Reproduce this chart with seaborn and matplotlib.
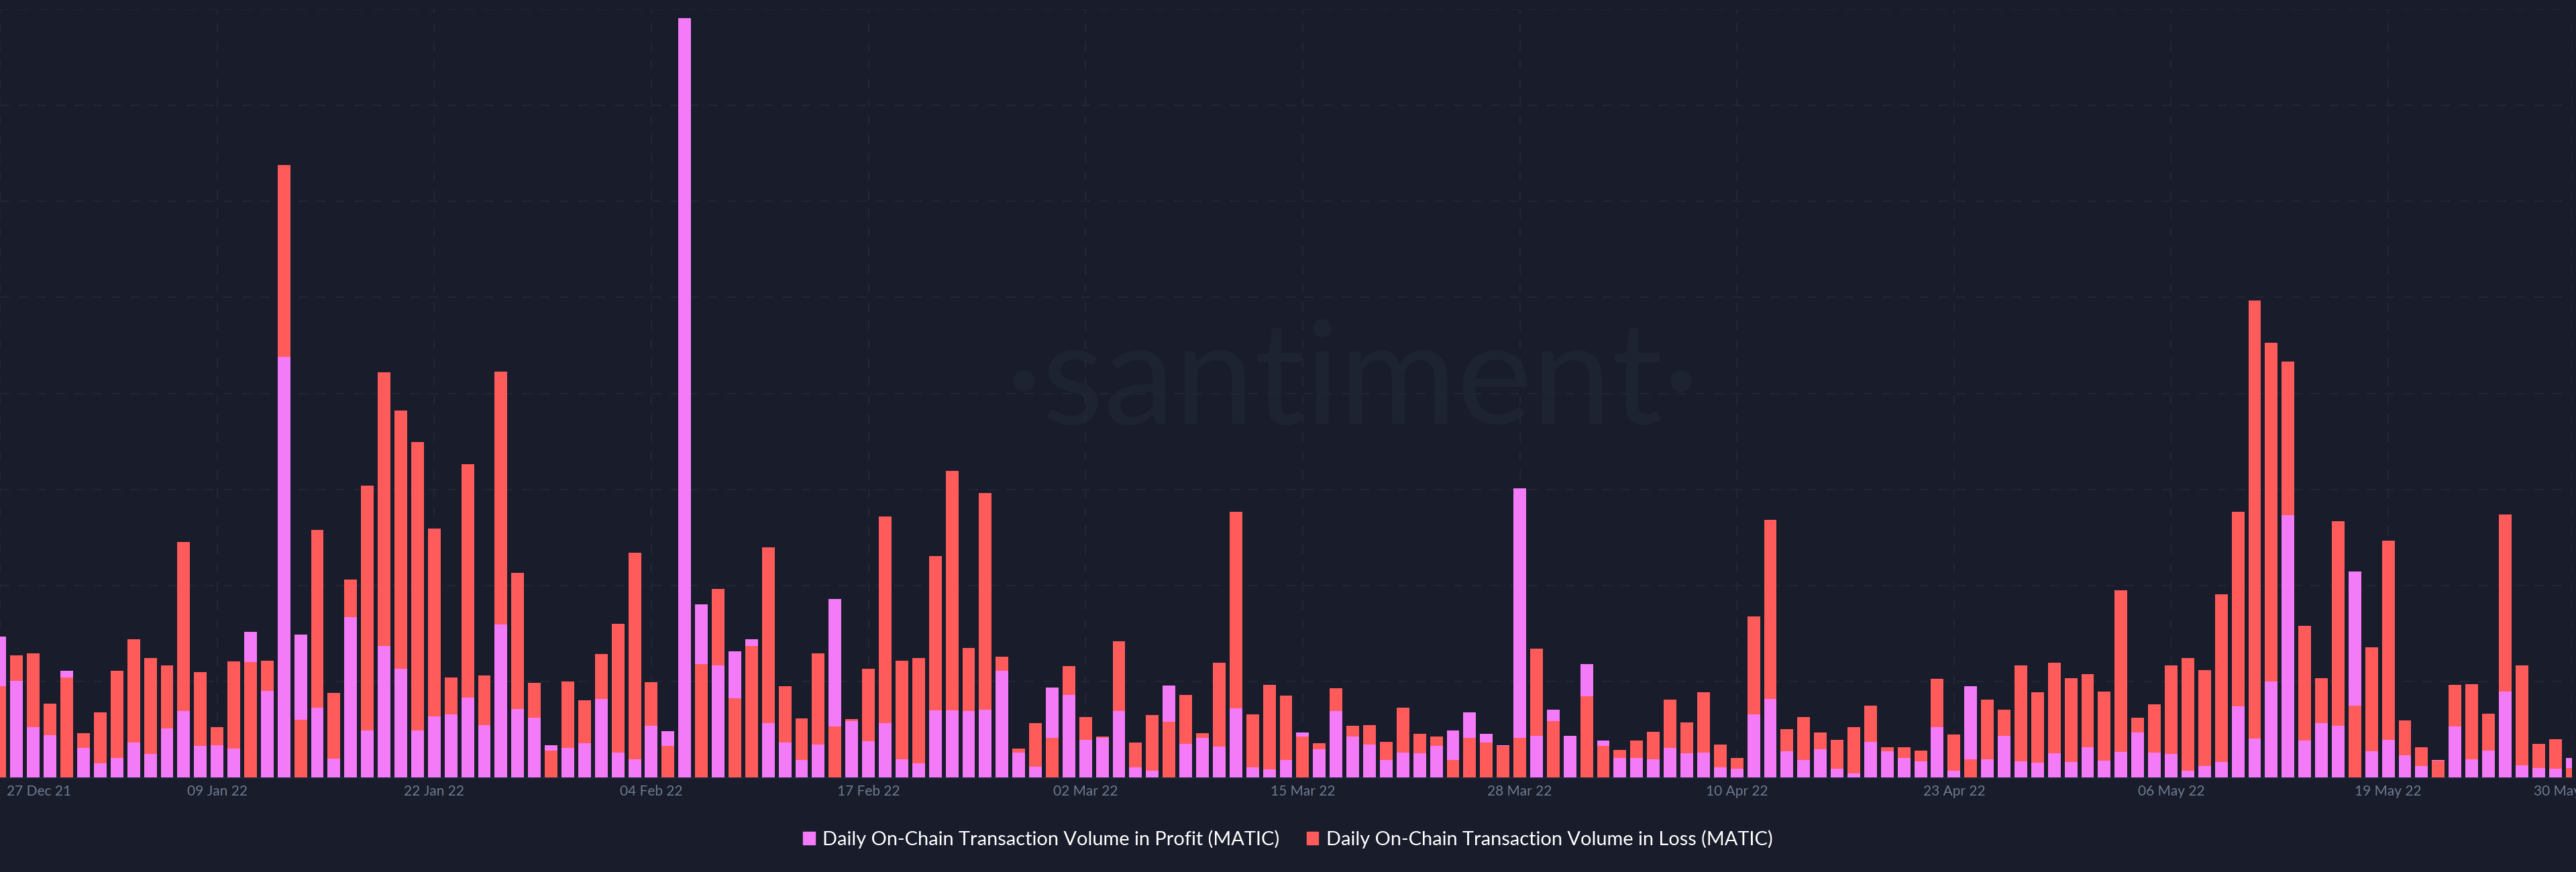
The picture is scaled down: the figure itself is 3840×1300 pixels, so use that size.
import matplotlib
matplotlib.use('Agg')
import matplotlib.pyplot as plt
from matplotlib.patches import Patch
from matplotlib.transforms import ScaledTranslation
import pandas as pd
import seaborn as sns

# values, one gridline step = 100
profit = [146.6, 100.4, 52.3, 44.1, 110.8, 30.7, 14.7, 20.3, 36.0, 24.6, 51.3, 69.4, 32.8, 33.4, 30.2, 151.9,
          90.3, 438.4, 148.7, 72.6, 19.5, 166.9, 48.6, 137.0, 113.0, 49.0, 63.6, 65.7, 82.8, 54.7, 159.1, 71.6,
          62.0, 33.4, 30.7, 35.5, 81.7, 25.9, 19.0, 53.9, 48.0, 791.0, 180.5, 116.7, 131.1, 144.2, 56.3, 36.6,
          18.2, 34.4, 186.1, 59.0, 37.7, 56.9, 19.0, 14.7, 69.7, 70.0, 68.9, 70.5, 111.1, 25.9, 11.5, 93.7,
          86.0, 39.0, 41.4, 69.4, 10.7, 6.7, 95.9, 35.0, 41.4, 32.0, 72.1, 10.4, 8.5, 18.4, 46.7, 29.6, 69.2,
          42.7, 34.4, 18.2, 25.6, 25.1, 32.8, 48.6, 67.6, 45.1, 33.4, 300.9, 43.3, 70.8, 43.3, 117.8, 38.2,
          20.6, 20.0, 19.2, 31.0, 25.4, 25.6, 10.7, 8.8, 65.7, 81.7, 27.2, 17.9, 29.4, 8.8, 4.3, 37.1, 27.2,
          20.0, 17.1, 52.1, 6.8, 94.9, 18.8, 43.3, 16.8, 15.2, 25.2, 16.4, 31.6, 17.6, 26.4, 46.5, 25.6, 24.8,
          6.8, 11.6, 16.4, 74.1, 40.4, 99.7, 273.1, 38.4, 56.9, 53.7, 214.7, 27.2, 38.8, 22.8, 11.6, 18.4,
          52.9, 19.2, 28.0, 89.7, 12.8, 9.6, 8.8, 20.0]
loss = [94.8, 127.4, 129.2, 76.6, 104.4, 45.9, 67.6, 110.8, 143.7, 124.4, 117.0, 245.4, 109.5, 52.6, 121.0, 120.2,
        121.5, 638.0, 60.1, 258.0, 88.1, 206.4, 304.1, 422.0, 382.0, 349.0, 259.5, 104.1, 326.6, 106.0, 423.0, 212.8,
        98.5, 28.0, 99.6, 80.4, 128.7, 159.7, 233.9, 99.3, 32.8, 0.0, 118.0, 196.3, 82.5, 137.2, 239.5, 95.3,
        61.4, 129.5, 53.1, 61.1, 113.2, 272.1, 121.5, 124.2, 230.4, 319.0, 135.1, 295.9, 125.5, 30.2, 56.3, 40.9,
        115.9, 63.0, 42.7, 141.8, 36.0, 64.9, 57.9, 85.7, 46.2, 119.6, 276.4, 65.4, 96.1, 84.9, 42.7, 35.8, 92.9,
        53.9, 54.2, 36.8, 72.6, 45.4, 42.5, 17.9, 41.4, 36.0, 32.6, 40.9, 133.8, 58.5, 0.0, 84.6, 32.6,
        28.8, 38.2, 47.5, 81.2, 57.1, 88.4, 34.2, 20.6, 168.0, 268.6, 50.5, 63.0, 46.7, 39.3, 52.6, 74.8, 31.2,
        31.2, 27.8, 102.5, 44.9, 18.8, 81.3, 70.5, 116.5, 88.5, 119.3, 103.3, 107.7, 89.7, 195.0, 62.5, 76.5, 116.9,
        124.1, 112.1, 191.0, 276.7, 497.0, 452.5, 432.9, 157.8, 103.7, 266.7, 74.5, 135.4, 246.3, 59.3, 31.2, 17.2,
        96.5, 96.9, 66.5, 273.9, 116.9, 34.8, 40.0, 9.6]
tick_dates = ['2021-12-27', '2022-01-09', '2022-01-22', '2022-02-04', '2022-02-17', '2022-03-02', '2022-03-15',
              '2022-03-28', '2022-04-10', '2022-04-23', '2022-05-06', '2022-05-19', '2022-05-30']
tick_labels = ['27 Dec 21', '09 Jan 22', '22 Jan 22', '04 Feb 22', '17 Feb 22', '02 Mar 22', '15 Mar 22',
               '28 Mar 22', '10 Apr 22', '23 Apr 22', '06 May 22', '19 May 22', '30 May 22']
profit_label = 'Daily On-Chain Transaction Volume in Profit (MATIC)'
loss_label = 'Daily On-Chain Transaction Volume in Loss (MATIC)'

BG = '#181c2b'
GRID = '#222736'
PINK = '#f47bf7'
RED = '#ff5b5b'

sns.set_theme(style='dark')
plt.rcParams['font.family'] = ['Lato', 'DejaVu Sans']
plt.rcParams['lines.scale_dashes'] = False

df = pd.DataFrame({'day': range(len(profit)), 'profit': profit, 'loss': loss})

fig = plt.figure(figsize=(38.4, 13), dpi=100, facecolor=BG)
ax = fig.add_axes([0, 141 / 1300, 3834 / 3840, 1145 / 1300], facecolor=BG)

# both series start at zero, whichever is smaller sits in front
sns.barplot(data=df, x='day', y='profit', color=PINK, saturation=1, width=0.76, linewidth=0,
            native_scale=True, legend=False, ax=ax)
n = len(ax.patches)
sns.barplot(data=df, x='day', y='loss', color=RED, saturation=1, width=0.76, linewidth=0,
            native_scale=True, legend=False, ax=ax)
for i, bar in enumerate(ax.patches):
    other = ax.patches[i + n] if i < n else ax.patches[i - n]
    bar.set_zorder(4 if bar.get_height() <= other.get_height() else 3)

tick_pos = (pd.to_datetime(tick_dates) - pd.Timestamp(tick_dates[0])).days
ax.set_xlim(0, 154)
ax.set_ylim(0, 800)
ax.set_xticks(tick_pos, tick_labels)
ax.set_yticks(range(0, 801, 100), [])
ax.set_xlabel('')
ax.set_ylabel('')
ax.grid(True, color=GRID, lw=1.5, linestyle=(0, (10, 10)))
ax.set_axisbelow(True)
ax.tick_params(axis='x', length=0, pad=8, labelsize=15, labelcolor='#6f7b8f')
ax.tick_params(axis='y', length=0)
for side in ['top', 'left', 'right']:
    ax.spines[side].set_visible(False)
ax.spines['bottom'].set_color('#20263a')
ax.spines['bottom'].set_linewidth(2)

# end labels are pushed inside the picture
labels = ax.get_xticklabels()
labels[0].set_ha('left')
labels[0].set_transform(labels[0].get_transform() + ScaledTranslation(0.10, 0, fig.dpi_scale_trans))
labels[-1].set_ha('left')
labels[-1].set_transform(labels[-1].get_transform() + ScaledTranslation(-0.57, 0, fig.dpi_scale_trans))

# watermark goes under the grid and the bars
ax.text(2016 / 3840, 1 - 632 / 1300, '\u00b7santiment\u00b7', color='#1e2332', fontsize=153,
        ha='center', va='baseline', zorder=0.4, transform=fig.transFigure)

handles = [Patch(color=PINK, label=profit_label), Patch(color=RED, label=loss_label)]
fig.legend(handles=handles, loc='center', bbox_to_anchor=(0.5, 1 - 1251 / 1300), ncol=2, frameon=False,
           fontsize=20.85, labelcolor='white', handlelength=0.6, handleheight=0.62, handletextpad=0.4,
           columnspacing=1.4)

fig.savefig('out.png', dpi=100, facecolor=BG)
